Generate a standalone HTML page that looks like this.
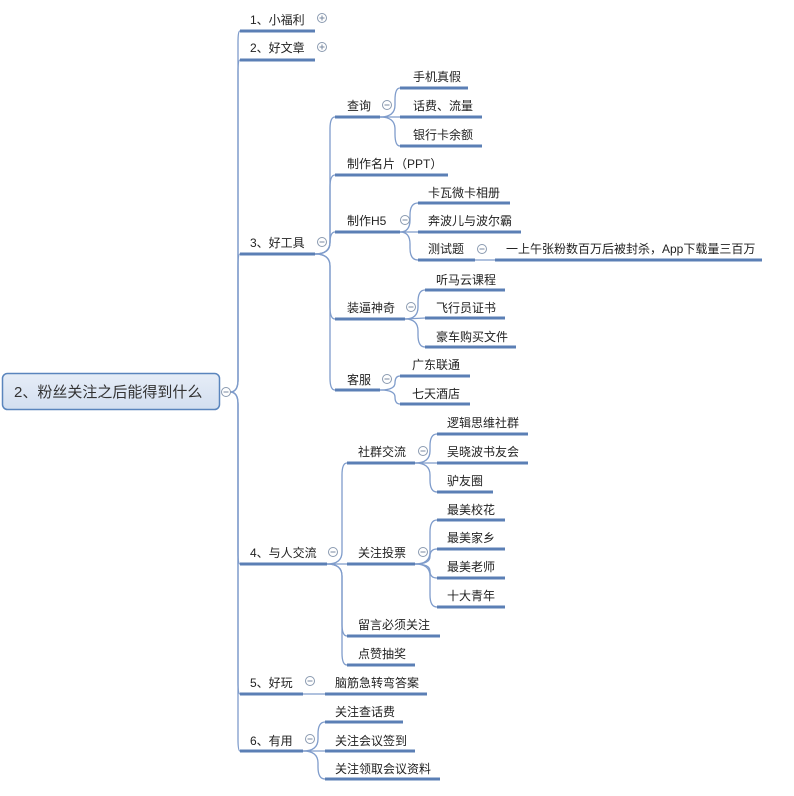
<!DOCTYPE html>
<html><head><meta charset="utf-8"><style>
html,body{margin:0;padding:0;background:#fff;width:794px;height:796px;overflow:hidden}
svg{display:block}
text{font-family:"Liberation Sans","Noto Sans CJK SC",sans-serif;font-size:12px;fill:#222}
.ul{stroke:#5b7fb5;stroke-width:3;fill:none}
.cn{stroke:#7f9ccb;stroke-width:1.3;fill:none}
.ci{stroke:#8a9ab0;stroke-width:1;fill:#fff}
.sg{stroke:#7a8aa0;stroke-width:1}
</style></head><body>
<svg id="s" width="794" height="796" viewBox="0 0 794 796">
<defs><linearGradient id="g" x1="0" y1="0" x2="0" y2="1"><stop offset="0" stop-color="#e6edf7"/><stop offset="1" stop-color="#d3dff0"/></linearGradient></defs>
<g id="cons"></g>
<rect x="2.5" y="373.5" width="217" height="36" rx="5" fill="url(#g)" stroke="#5a85bd" stroke-width="1.5"/>
<text x="14" y="397" style="font-size:15px;fill:#333">2、粉丝关注之后能得到什么</text>

<!-- underlines -->
<g class="ul">
<line x1="240" y1="31" x2="315" y2="31"/><line x1="240" y1="60" x2="315" y2="60"/>
<line x1="240" y1="254" x2="315" y2="254"/><line x1="240" y1="564" x2="327" y2="564"/>
<line x1="240" y1="694" x2="303" y2="694"/><line x1="240" y1="751" x2="303" y2="751"/>
<line x1="335" y1="117" x2="380" y2="117"/><line x1="335" y1="175" x2="448" y2="175"/>
<line x1="335" y1="232" x2="400" y2="232"/><line x1="335" y1="319" x2="405" y2="319"/>
<line x1="335" y1="390" x2="380" y2="390"/>
<line x1="400" y1="88" x2="468" y2="88"/><line x1="400" y1="117" x2="482" y2="117"/><line x1="400" y1="146" x2="482" y2="146"/>
<line x1="418" y1="203" x2="510" y2="203"/><line x1="418" y1="232" x2="521" y2="232"/><line x1="418" y1="260" x2="475" y2="260"/>
<line x1="495" y1="260" x2="762" y2="260"/>
<line x1="425" y1="290" x2="505" y2="290"/><line x1="425" y1="318" x2="505" y2="318"/><line x1="425" y1="347" x2="516" y2="347"/>
<line x1="400" y1="376" x2="470" y2="376"/><line x1="400" y1="404" x2="470" y2="404"/>
<line x1="347" y1="463" x2="415" y2="463"/><line x1="347" y1="564" x2="415" y2="564"/>
<line x1="347" y1="636" x2="440" y2="636"/><line x1="347" y1="665" x2="415" y2="665"/>
<line x1="437" y1="434" x2="528" y2="434"/><line x1="437" y1="463" x2="528" y2="463"/><line x1="437" y1="492" x2="493" y2="492"/>
<line x1="437" y1="520" x2="505" y2="520"/><line x1="437" y1="549" x2="505" y2="549"/><line x1="437" y1="578" x2="505" y2="578"/><line x1="437" y1="607" x2="505" y2="607"/>
<line x1="325" y1="694" x2="427" y2="694"/>
<line x1="325" y1="722" x2="403" y2="722"/><line x1="325" y1="751" x2="415" y2="751"/><line x1="325" y1="779" x2="440" y2="779"/>
</g>

<!-- labels -->
<text x="250" y="24">1、小福利</text><text x="250" y="52">2、好文章</text>
<text x="250" y="247">3、好工具</text><text x="250" y="557">4、与人交流</text>
<text x="250" y="687">5、好玩</text><text x="250" y="745">6、有用</text>
<text x="347" y="110">查询</text><text x="347" y="168">制作名片（PPT）</text>
<text x="347" y="225">制作H5</text><text x="347" y="312">装逼神奇</text><text x="347" y="384">客服</text>
<text x="413" y="81">手机真假</text><text x="413" y="110">话费、流量</text><text x="413" y="139">银行卡余额</text>
<text x="428" y="197">卡瓦微卡相册</text><text x="428" y="225">奔波儿与波尔霸</text><text x="428" y="253">测试题</text>
<text x="506" y="253">一上午张粉数百万后被封杀，App下载量三百万</text>
<text x="436" y="284">听马云课程</text><text x="436" y="312">飞行员证书</text><text x="436" y="341">豪车购买文件</text>
<text x="412" y="369">广东联通</text><text x="412" y="398">七天酒店</text>
<text x="358" y="456">社群交流</text><text x="358" y="557">关注投票</text>
<text x="358" y="629">留言必须关注</text><text x="358" y="658">点赞抽奖</text>
<text x="447" y="427">逻辑思维社群</text><text x="447" y="456">吴晓波书友会</text><text x="447" y="485">驴友圈</text>
<text x="447" y="514">最美校花</text><text x="447" y="542">最美家乡</text><text x="447" y="571">最美老师</text><text x="447" y="600">十大青年</text>
<text x="335" y="687">脑筋急转弯答案</text>
<text x="335" y="716">关注查话费</text><text x="335" y="745">关注会议签到</text><text x="335" y="773">关注领取会议资料</text>
<g id="circ"></g>
</svg>
<script>
var ns="http://www.w3.org/2000/svg";
var groups=[
[230,392,238,240,[31,60,254,564,694,751]],
[315,254,330,335,[117,175,232,319,390]],
[380,117,395,400,[88,117,146]],
[400,232,410,418,[203,232,260]],
[475,260,485,495,[260]],
[405,319,418,425,[290,318,347]],
[380,390,395,400,[376,404]],
[327,564,342,347,[463,564,636,665]],
[415,463,430,437,[434,463,492]],
[415,564,430,437,[520,549,578,607]],
[303,694,314,325,[694]],
[303,751,318,325,[722,751,779]]];
var cg=document.getElementById('cons');
groups.forEach(function(g){var ax=g[0],ay=g[1],tx=g[2],cx=g[3];
g[4].forEach(function(cy){var d;var dy=cy-ay;
if(Math.abs(dy)<2){d="M"+ax+" "+ay+" L"+cx+" "+cy;}
else{var s=dy>0?1:-1;var r=Math.min(12,Math.abs(dy)/2);
d="M"+ax+" "+ay+" Q"+tx+" "+ay+" "+tx+" "+(ay+s*r)+" L"+tx+" "+(cy-s*r)+" Q"+tx+" "+cy+" "+cx+" "+cy;}
var p=document.createElementNS(ns,'path');p.setAttribute('d',d);p.setAttribute('class','cn');cg.appendChild(p);});});
var circs=[[226,392,0],[322,18,1],[322,47,1],[322,242,0],[333,552,0],[310,681,0],[310,739,0],
[387,105,0],[405,220,0],[482,249,0],[411,307,0],[387,379,0],[423,451,0],[423,552,0]];
var cc=document.getElementById('circ');
circs.forEach(function(c){var e=document.createElementNS(ns,'circle');e.setAttribute('cx',c[0]);e.setAttribute('cy',c[1]);e.setAttribute('r',4.5);e.setAttribute('class','ci');cc.appendChild(e);
var l=document.createElementNS(ns,'line');l.setAttribute('x1',c[0]-2.5);l.setAttribute('x2',c[0]+2.5);l.setAttribute('y1',c[1]);l.setAttribute('y2',c[1]);l.setAttribute('class','sg');cc.appendChild(l);
if(c[2]){var v=document.createElementNS(ns,'line');v.setAttribute('x1',c[0]);v.setAttribute('x2',c[0]);v.setAttribute('y1',c[1]-2.5);v.setAttribute('y2',c[1]+2.5);v.setAttribute('class','sg');cc.appendChild(v);}});
</script>
</body></html>
